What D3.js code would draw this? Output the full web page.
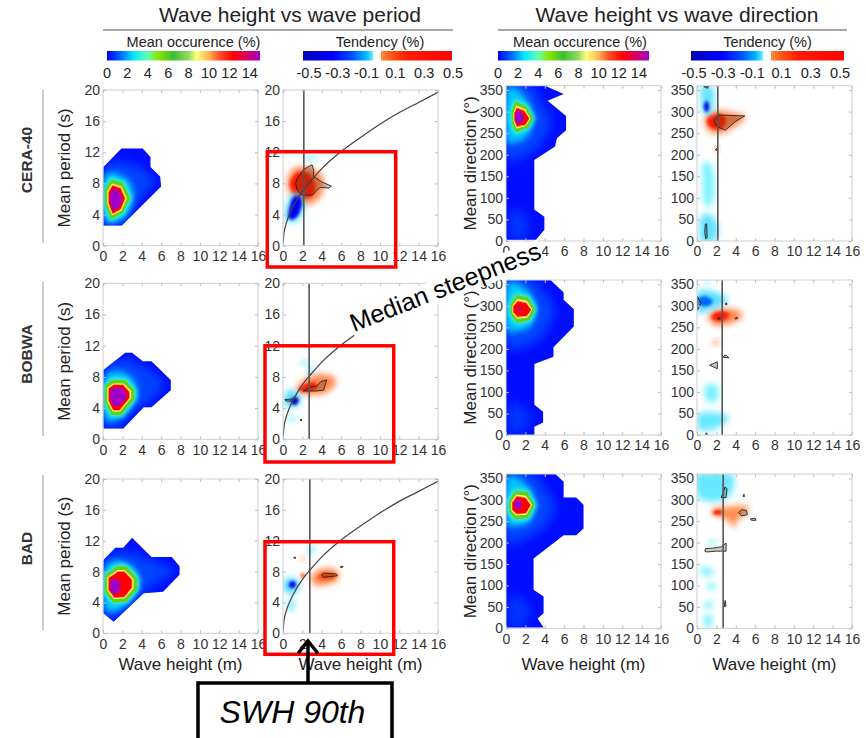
<!DOCTYPE html>
<html><head><meta charset="utf-8">
<script src="https://cdn.jsdelivr.net/npm/d3@7"></script>
<style>body{margin:0;background:#fff}svg{display:block;font-family:Arial,"Liberation Sans",sans-serif}</style>
</head><body><svg id="c" width="866" height="738"></svg>
<script>
// ---------------- DATA ----------------
const rowNames = ["CERA-40","BOBWA","BAD"];
const heightTicks = [0,2,4,6,8,10,12,14,16];
const periodTicks = [0,4,8,12,16,20];
const directionTicks = [0,50,100,150,200,250,300,350];
const occurrenceTicks = [0,2,4,6,8,10,12,14];
const tendencyTicks = ["-0.5","-0.3","-0.1","0.1","0.3","0.5"];
const swh90Period = [2.15,2.7,2.77];
const swh90Direction = [2.15,2.6,2.7];
const steepnessHeight = [0,0.1,0.25,0.5,1,2,3,4,6,8,10,12,14,16];
const steepnessPeriod = [0,1.6,2.5,3.5,4.9,7.0,8.5,9.9,12.1,13.9,15.6,17.1,18.4,19.7];

// Mean occurrence, wave height vs period: envelope (lowest level), glow, cyan, rings
const occPeriodEnvelope = [
 [[0.05,10.1],[1.9,12.5],[4.1,12.5],[4.9,11.4],[4.9,10.1],[5.9,8.9],[6.0,7.6],[1.95,2.6],[0.05,2.6]],
 [[0.05,8.9],[2.3,11.1],[3.0,11.1],[4.1,10],[5.0,10],[7.0,7.6],[7.0,6.3],[5.0,4.1],[4.2,4.1],[2.1,1.4],[0.05,1.4]],
 [[0.05,9.5],[1.27,11.1],[2.1,11.1],[3.0,12.4],[5.0,9.9],[7.1,9.9],[7.9,8.7],[7.9,7.6],[6.2,5.4],[4.2,5.2],[1.1,1.5],[0.05,2.6]]
];
const occPeriodGlow = [
 [[0.05,9.6],[1.6,10.8],[3.6,10.2],[5.3,8.4],[4.6,7.0],[2.6,4.2],[1.5,2.9],[0.05,3.0]],
 [[0.05,8.5],[2.0,10.3],[4.0,9.5],[6.2,7.4],[5.0,5.0],[3.0,3.5],[1.8,1.7],[0.05,1.8]],
 [[0.05,9.2],[2.0,10.6],[4.0,10.0],[6.5,8.8],[7.3,8.0],[5.0,6.0],[3.5,4.6],[1.5,2.2],[0.05,2.9]]
];
const occPeriodCyan = [
 [[0.1,8.7],[1.3,9.3],[2.8,8.1],[3.1,6.0],[2.3,3.6],[1.0,3.0],[0.1,3.6]],
 [[0.1,7.7],[1.4,8.8],[3.0,7.9],[3.5,6.0],[2.7,3.8],[1.2,2.4],[0.1,3.0]],
 [[0.1,8.2],[1.4,9.4],[3.3,8.4],[3.7,6.1],[2.6,4.0],[1.2,2.8],[0.1,3.4]]
];
const ringLevels = [5.8,8.8,10.3,12.4,15];
const occPeriodRings = [
 [
  [[0.22,7.25],[0.85,8.5],[2.05,8.1],[2.8,6.1],[2.05,4.2],[0.85,3.4],[0.22,5.2]],
  [[0.45,7.0],[0.95,8.0],[1.9,7.6],[2.45,6.1],[1.9,4.5],[0.95,3.9],[0.45,5.4]],
  [[0.52,6.95],[0.97,7.85],[1.85,7.5],[2.35,6.1],[1.85,4.6],[0.97,4.0],[0.52,5.45]],
  [[0.6,6.85],[1.0,7.7],[1.8,7.35],[2.25,6.05],[1.8,4.7],[1.0,4.15],[0.6,5.5]],
  [[0.75,6.65],[1.05,7.3],[1.65,7.0],[2.0,6.0],[1.65,4.9],[1.05,4.5],[0.75,5.6]]
 ],
 [
  [[0.2,6.85],[0.95,7.6],[2.3,7.6],[3.25,6.3],[3.25,5.2],[1.9,3.1],[0.9,3.1],[0.2,4.7]],
  [[0.45,6.6],[1.05,7.15],[2.15,7.15],[2.9,6.15],[2.9,5.3],[1.75,3.55],[1.0,3.55],[0.45,4.85]],
  [[0.52,6.55],[1.08,7.05],[2.1,7.05],[2.8,6.1],[2.8,5.3],[1.72,3.65],[1.03,3.65],[0.52,4.9]],
  [[0.6,6.5],[1.1,6.95],[2.05,6.95],[2.7,6.05],[2.7,5.3],[1.7,3.75],[1.05,3.75],[0.6,4.95]],
  [[0.75,6.3],[1.2,6.6],[1.95,6.6],[2.4,5.9],[2.4,5.3],[1.65,4.3],[1.1,4.3],[0.75,5.0]]
 ],
 [
  [[0.2,7.45],[1.4,8.7],[2.4,8.7],[3.5,7.2],[3.5,5.7],[2.4,4.1],[1.05,4.0],[0.2,5.3]],
  [[0.45,7.25],[1.5,8.2],[2.25,8.2],[3.15,7.05],[3.15,5.85],[2.25,4.55],[1.15,4.45],[0.45,5.5]],
  [[0.52,7.2],[1.52,8.1],[2.22,8.1],[3.05,7.0],[3.05,5.9],[2.22,4.65],[1.18,4.55],[0.52,5.55]],
  [[0.6,7.15],[1.55,7.95],[2.2,7.95],[2.95,6.95],[2.95,5.95],[2.2,4.75],[1.2,4.65],[0.6,5.6]],
  [[0.75,6.75],[1.2,7.1],[1.65,6.8],[1.85,5.9],[1.55,5.2],[1.0,5.1],[0.75,5.7]]
 ]
];

// Mean occurrence, wave height vs direction
const occDirEnvelope = [
 [[0,360],[4.03,360],[5.95,341],[4.3,325],[6.2,290],[6.2,257],[5.26,238],[5.06,219],[2.92,188],[2.92,73],[3.96,56],[3.96,26],[3.1,3],[0,3]],
 [[0,360],[4.6,360],[5.95,331],[5.95,314],[7.0,292],[7.0,252],[4.9,204],[4.9,182],[2.93,165],[2.93,70],[3.83,54],[3.83,29],[2.93,19],[2.93,0],[0,0]],
 [[0,360],[5.1,360],[5.95,342],[5.95,305],[7.25,305],[8.0,288],[8.0,233],[7.25,217],[5.95,217],[2.85,163],[2.85,90],[3.88,74],[3.88,35],[3.26,23],[3.88,2],[0,2]]
];
const occDirGlow = [
 [[0,360],[2.6,360],[3.6,320],[4.6,280],[4.0,240],[2.6,205],[0,195]],
 [[0,360],[2.6,360],[4.0,330],[5.0,290],[4.2,245],[3.0,215],[0,210]],
 [[0,360],[2.8,360],[4.2,322],[5.0,282],[4.2,242],[2.5,215],[0,205]]
];
const occDirGlowLow = [
 [[0.3,65],[1.5,70],[2.4,40],[1.8,5],[0.4,5]],
 [[0.3,70],[1.5,72],[2.5,38],[1.6,5],[0.3,5]],
 [[0.3,70],[1.5,72],[2.5,38],[1.8,5],[0.3,5]]
];
const occDirCyan = [
 [[0,348],[1.2,352],[2.3,322],[2.8,282],[2.2,242],[1.0,228],[0,238]],
 [[0,345],[1.3,352],[2.6,325],[3.1,290],[2.5,252],[1.1,240],[0,250]],
 [[0,345],[1.2,352],[2.6,322],[3.0,285],[2.4,248],[1.1,238],[0,248]]
];
const occDirRings = [
 [
  [[0.58,301],[1.0,324],[2.12,312],[2.8,284],[2.25,262],[1.0,252],[0.58,276]],
  [[0.78,299],[1.07,314],[2.0,305],[2.52,284],[2.1,267],[1.07,261],[0.78,278]],
  [[0.83,298],[1.1,311],[1.95,303],[2.45,284],[2.05,268],[1.1,263],[0.83,279]],
  [[0.88,297],[1.12,308],[1.9,301],[2.38,284],[2.0,270],[1.12,266],[0.88,280]],
  [[0.95,294],[1.2,303],[1.65,298],[1.85,285],[1.65,274],[1.2,271],[0.95,281]]
 ],
 [
  [[0.48,303],[1.05,325],[2.28,320],[3.0,292],[2.4,266],[1.05,261],[0.48,281]],
  [[0.68,301],[1.15,316],[2.15,312],[2.72,292],[2.22,273],[1.15,270],[0.68,283]],
  [[0.73,300],[1.17,313],[2.1,309],[2.65,291],[2.18,275],[1.17,272],[0.73,284]],
  [[0.78,299],[1.2,310],[2.05,306],[2.58,291],[2.14,277],[1.2,275],[0.78,285]],
  [[1.15,293],[1.35,298],[1.6,292],[1.4,286]]
 ],
 [
  [[0.33,297],[0.95,321],[2.18,318],[2.95,288],[2.3,258],[0.95,254],[0.33,272]],
  [[0.55,295],[1.05,312],[2.05,309],[2.68,288],[2.12,265],[1.05,263],[0.55,275]],
  [[0.6,294],[1.08,310],[2.02,306],[2.6,288],[2.08,267],[1.08,265],[0.6,276]],
  [[0.66,293],[1.1,307],[2.0,304],[2.52,287],[2.04,269],[1.1,267],[0.66,277]],
  [[0.85,291],[1.1,301],[1.5,298],[1.6,287],[1.4,277],[1.0,277],[0.85,283]]
 ]
];

// Tendency blobs (value in %, polygon in data units)
const tendPeriodBlobs = [
 [
  {v:0.06,pts:[[0.5,8.6],[1.1,9.9],[2.5,10.1],[3.9,9.2],[4.2,7.5],[3.6,5.9],[2.3,5.3],[1.2,6.0],[0.5,7.3]]},
  {v:0.2,pts:[[0.8,8.4],[1.5,9.4],[2.6,9.3],[3.3,8.0],[3.1,6.5],[2.2,6.0],[1.2,6.6],[0.8,7.5]]},
  {v:-0.05,pts:[[0.2,4.0],[0.7,6.3],[1.6,6.8],[2.2,6.0],[2.0,4.2],[1.2,3.0],[0.4,3.2]]},
  {v:-0.35,pts:[[0.55,4.1],[0.95,6.0],[1.6,6.4],[1.95,5.6],[1.65,4.1],[1.1,3.4],[0.65,3.5]]},
  {v:-0.04,pts:[[1.8,11.1],[2.8,11.5],[3.8,11.3],[2.8,11.0]]}
 ],
 [
  {v:0.06,pts:[[1.4,6.2],[2.0,7.4],[3.5,8.3],[5.2,8.0],[5.3,6.8],[4.0,5.8],[2.5,5.8]]},
  {v:0.2,pts:[[1.6,6.3],[2.2,7.0],[3.2,7.3],[3.5,6.6],[2.6,6.1]]},
  {v:-0.05,pts:[[0.1,5.0],[0.3,6.1],[1.0,6.3],[1.8,5.6],[1.6,4.4],[0.8,4.1],[0.2,4.3]]},
  {v:-0.4,pts:[[0.8,4.8],[1.1,5.4],[1.6,5.2],[1.5,4.6],[1.1,4.4]]},
  {v:-0.035,pts:[[1.8,9.7],[2.3,10.2],[2.6,9.7],[2.1,9.5]]},
  {v:-0.035,pts:[[2.5,8.4],[2.8,9.4],[3.1,8.9],[2.8,8.2]]},
  {v:-0.035,pts:[[0.3,2.5],[0.9,2.9],[1.5,2.6],[0.9,2.3]]}
 ],
 [
  {v:0.06,pts:[[2.9,6.8],[3.2,7.8],[4.2,8.4],[5.5,8.2],[5.8,7.3],[5.0,6.5],[3.5,6.2]]},
  {v:0.11,pts:[[3.6,7.3],[4.2,7.8],[5.2,7.7],[5.3,7.1],[4.3,6.9]]},
  {v:0.12,pts:[[1.8,7.4],[2.0,7.8],[2.3,7.5],[2.0,7.2]]},
  {v:0.05,pts:[[1.8,9.6],[2.1,10.0],[2.3,9.7],[2.0,9.4]]},
  {v:-0.05,pts:[[0.0,6.6],[0.5,7.2],[1.4,7.0],[1.7,6.2],[1.3,5.2],[0.4,5.2],[0.0,5.8]]},
  {v:-0.35,pts:[[0.6,6.4],[1.0,6.8],[1.35,6.4],[1.1,5.9],[0.75,5.95]]},
  {v:-0.035,pts:[[0.5,3.0],[0.7,4.4],[1.2,4.2],[1.1,3.0]]},
  {v:-0.035,pts:[[2.5,10.5],[2.9,11.5],[3.3,11.0],[2.9,10.4]]}
 ]
];
const tendPeriodSig = [
 [[[1.3,8.0],[1.46,8.65],[2.14,9.8],[3.0,10.4],[3.16,9.7],[3.16,8.9],[4.0,8.2],[5.0,7.65],[4.7,7.4],[3.84,7.5],[3.0,6.5],[1.97,6.5],[1.46,7.15]]],
 [[[2.1,6.2],[2.8,6.7],[3.5,6.85],[3.9,7.4],[4.5,7.6],[4.2,6.3],[3.5,6.2]],[[0.2,5.1],[1.2,5.2],[1.2,4.9],[0.3,4.9]],[[1.75,2.45],[1.9,2.6],[1.95,2.4]]],
 [[[3.95,7.55],[4.2,7.8],[5.5,7.7],[5.6,7.45],[4.2,7.25]],[[5.9,8.6],[6.2,8.7],[6.1,8.5]],[[1.1,9.8],[1.25,9.9],[1.3,9.7]]]
];
const tendDirBlobs = [
 [
  {v:0.06,pts:[[0.8,275],[1.2,296],[2.5,302],[4.0,296],[5.0,287],[3.8,264],[2.5,250],[1.3,254]]},
  {v:0.2,pts:[[1.0,275],[1.4,291],[2.4,294],[3.0,282],[2.6,261],[1.6,261]]},
  {v:0.06,pts:[[1.8,210],[2.0,218],[2.3,212],[2.0,207]]},
  {v:-0.045,pts:[[0.5,360],[1.5,360],[1.8,330],[1.6,300],[1.2,290],[0.6,300],[0.4,330]]},
  {v:-0.4,pts:[[0.7,311],[1.0,325],[1.25,311],[1.0,298]]},
  {v:-0.03,pts:[[0.6,180],[1.5,175],[1.8,120],[1.4,80],[0.7,90],[0.6,140]]},
  {v:-0.045,pts:[[0.4,55],[1.5,60],[2.2,30],[1.8,0],[0.4,0]]}
 ],
 [
  {v:0.06,pts:[[1.2,272],[1.6,288],[3.0,294],[4.3,288],[4.7,275],[3.8,262],[2.4,254],[1.5,260]]},
  {v:0.2,pts:[[1.5,275],[2.0,285],[3.0,286],[3.3,276],[2.6,265],[1.8,267]]},
  {v:-0.05,pts:[[0,330],[1,336],[2.5,326],[3.2,315],[2.5,300],[1.2,290],[0,285]]},
  {v:-0.15,pts:[[0.2,318],[0.9,322],[1.6,312],[1.2,300],[0.3,302]]},
  {v:0.04,pts:[[1.5,213],[1.9,221],[2.3,215],[1.9,209]]},
  {v:-0.035,pts:[[0.9,360],[1.2,360],[1.3,350],[0.9,350]]},
  {v:-0.03,pts:[[0.9,115],[2.1,115],[2.1,81],[0.9,81]]},
  {v:-0.04,pts:[[0.2,50],[2.0,52],[3.3,40],[2.0,15],[0.2,12]]}
 ],
 [
  {v:0.05,pts:[[1.5,270],[2.0,280],[3.5,284],[5.0,285],[5.3,272],[4.4,258],[3.8,236],[3.3,250],[2.2,262]]},
  {v:0.3,pts:[[1.6,270],[2.0,276],[2.6,273],[2.4,266],[1.9,265]]},
  {v:-0.04,pts:[[0,360],[3.5,360],[3.8,330],[3.2,305],[1.8,295],[0.5,300],[0,310]]},
  {v:-0.03,pts:[[0.4,140],[1.5,140],[1.6,125],[0.5,125]]},
  {v:-0.03,pts:[[1.2,105],[1.8,105],[1.8,90],[1.2,90]]},
  {v:-0.03,pts:[[0.8,60],[1.5,62],[1.5,48],[0.8,48]]},
  {v:-0.03,pts:[[0.8,30],[1.5,30],[1.5,5],[0.8,5]]},
  {v:-0.03,pts:[[1.3,205],[1.9,205],[1.9,195],[1.3,195]]}
 ]
];
const tendDirSig = [
 [[[1.72,277],[1.9,284],[2.24,292],[4.92,290],[3.96,277],[2.93,257],[2.07,265]],[[0.85,38],[1.0,40],[1.05,8],[0.9,5],[0.8,20]],[[1.9,211],[2.05,215],[2.1,210]],[[0.7,358],[1.2,360],[1.1,354]]],
 [[[0.05,322],[0.4,306],[0.05,290]],[[1.3,162],[2.1,170],[2.1,154]],[[2.6,181],[3.0,186],[3.3,179]],[[2.1,270],[2.3,273],[2.4,269]],[[3.9,270],[4.1,274],[4.2,270]],[[2.9,304],[3.05,307],[3.1,303]],[[0.85,2],[1.0,5],[1.05,1]]],
 [[[4.3,270],[4.6,277],[5.1,275],[5.2,265],[4.6,262]],[[5.5,255],[6.0,257],[6.1,252],[5.6,252]],[[2.5,305],[2.9,330],[3.1,325],[3.0,305]],[[0.8,180],[0.9,186],[1.6,187],[2.5,190],[3.0,199],[3.0,180],[2.0,180],[1.0,178]],[[2.8,50],[2.9,65],[3.0,52]],[[4.75,308],[4.85,313],[4.9,307]]]
];

// ---------------- RENDER ----------------
const svg = d3.select("#c");
svg.append("rect").attr("width",866).attr("height",738).attr("fill","#fff");
const defs = svg.append("defs");
function blurFilter(id, sd){
  defs.append("filter").attr("id",id).attr("x","-50%").attr("y","-50%").attr("width","200%").attr("height","200%")
    .append("feGaussianBlur").attr("stdDeviation",sd);
}
blurFilter("b06",0.6); blurFilter("b15",1.5); blurFilter("b2",2.2); blurFilter("b3",3); blurFilter("b5",5);

const occDomain = [0,1.3,2.6,4,5,6.5,8,8.8,10,11,12.4,13.7,15];
const occRange = ["#0000ff","#0064ff","#00e6ff","#64ffb4","#8ce600","#3cbe32","#96dc64","#ffff78","#ffb450","#ff5028","#ff0000","#d20064","#a000c8"];
const occColor = d3.scaleLinear().domain(occDomain).range(occRange).clamp(true);
const tendDomain = [-0.5,-0.3,-0.17,-0.08,-0.03,0.025,0.1,0.2,0.5];
const tendRange = ["#0000b4","#0000ff","#0050ff","#00b4ff","#64f0ff","#ff8c3c","#ff5014","#ff1e00","#ff0000"];
const tendColor = d3.scaleLinear().domain(tendDomain).range(tendRange).clamp(true);

const colX = [103,283,506,697];
const plotW = 155;
const periodRowsY = [[90,245.7],[283.3,439.3],[479,633.3]];
const dirRowsY = [[85.7,241],[280,435],[474,628.3]];
const tickColor = "#bdbdbd", labelColor = "#333";

function makePanel(col,row,kind){
  const x0 = colX[col];
  const [yt,yb] = kind==="period" ? periodRowsY[row] : dirRowsY[row];
  const x = d3.scaleLinear().domain([0,16]).range([x0,x0+plotW]);
  const y = d3.scaleLinear().domain(kind==="period"?[0,20]:[0,360]).range([yb,yt]);
  const id = `clip${col}${row}`;
  defs.append("clipPath").attr("id",id).append("rect").attr("x",x0).attr("y",yt).attr("width",plotW).attr("height",yb-yt);
  const g = svg.append("g");
  const plot = g.append("g").attr("clip-path",`url(#${id})`);
  return {x,y,g,plot,x0,yt,yb,kind,col,row};
}
function pathOf(p, pts, curve){
  return d3.line().x(d=>p.x(d[0])).y(d=>p.y(d[1])).curve(curve||d3.curveLinearClosed)(pts);
}
function drawAxes(p){
  const yt = p.kind==="period"?periodTicks:directionTicks;
  p.g.append("rect").attr("x",p.x0).attr("y",p.yt).attr("width",plotW).attr("height",p.yb-p.yt)
    .attr("fill","none").attr("stroke","#cdcdcd").attr("stroke-width",1);
  const style = a => { a.select(".domain").remove(); a.selectAll(".tick line").attr("stroke",tickColor);
    a.selectAll("text").attr("fill",labelColor).attr("font-size",14).attr("font-family","Arial, 'Liberation Sans', sans-serif"); };
  p.g.append("g").attr("transform",`translate(0,${p.yb})`).call(d3.axisBottom(p.x).tickValues(heightTicks).tickSize(-3).tickPadding(5.5)).call(style);
  p.g.append("g").attr("transform",`translate(0,${p.yt})`).call(d3.axisTop(p.x).tickValues(heightTicks).tickSize(-3).tickFormat("")).call(style);
  p.g.append("g").attr("transform",`translate(${p.x0},0)`).call(d3.axisLeft(p.y).tickValues(yt).tickSize(-3).tickPadding(3)).call(style);
  p.g.append("g").attr("transform",`translate(${p.x0+plotW},0)`).call(d3.axisRight(p.y).tickValues(yt).tickSize(-3).tickFormat("")).call(style);
}
function drawOccurrence(p, env, glow, glowLow, cyan, rings){
  const envId = `env${p.col}${p.row}`;
  defs.append("clipPath").attr("id",envId).append("path").attr("d",pathOf(p,env));
  p.plot.append("path").attr("d",pathOf(p,env)).attr("fill",occColor(0.15)).attr("filter","url(#b06)");
  const inner = p.plot.append("g").attr("clip-path",`url(#${envId})`);
  const g1 = inner.append("g").attr("filter","url(#b5)");
  g1.append("path").attr("d",pathOf(p,glow,d3.curveCardinalClosed)).attr("fill",occColor(1.0)).attr("opacity",0.85);
  if(glowLow) g1.append("path").attr("d",pathOf(p,glowLow,d3.curveCardinalClosed)).attr("fill",occColor(0.7)).attr("opacity",0.9);
  const g2 = inner.append("g").attr("filter","url(#b3)");
  g2.append("path").attr("d",pathOf(p,cyan,d3.curveCardinalClosed)).attr("fill",occColor(2.4)).attr("opacity",0.9);
  const g3 = inner.append("g").attr("filter","url(#b2)");
  g3.append("path").attr("d",pathOf(p,rings[0])).attr("fill",occColor(3.6)).attr("stroke",occColor(3.4)).attr("stroke-width",4);
  rings.forEach((r,i)=>{
    p.plot.append("path").attr("d",pathOf(p,r)).attr("fill",occColor(ringLevels[i])).attr("filter","url(#b06)");
  });
}
function drawTendency(p, blobs, sigs){
  blobs.forEach(b=>{
    const strong = Math.abs(b.v) > 0.1;
    p.plot.append("path").attr("d",pathOf(p,b.pts,d3.curveCardinalClosed))
      .attr("fill",tendColor(b.v)).attr("opacity",strong?1:0.85)
      .attr("filter",strong?"url(#b15)":"url(#b3)");
  });
  sigs.forEach(s=>{
    p.plot.append("path").attr("d",pathOf(p,s)).attr("fill","rgba(90,50,30,0.28)")
      .attr("stroke","#222").attr("stroke-width",0.9).attr("stroke-linejoin","round");
  });
}

rowNames.forEach((name,r)=>{
  let p = makePanel(0,r,"period");
  drawOccurrence(p, occPeriodEnvelope[r], occPeriodGlow[r], null, occPeriodCyan[r], occPeriodRings[r]);
  drawAxes(p);
  p = makePanel(1,r,"period");
  drawTendency(p, tendPeriodBlobs[r], tendPeriodSig[r]);
  const pts = steepnessHeight.map((h,i)=>[h,steepnessPeriod[i]]);
  p.plot.append("path").attr("d",d3.line().x(d=>p.x(d[0])).y(d=>p.y(d[1])).curve(d3.curveMonotoneX)(pts))
    .attr("fill","none").attr("stroke","#444").attr("stroke-width",1.2);
  p.plot.append("line").attr("x1",p.x(swh90Period[r])).attr("x2",p.x(swh90Period[r])).attr("y1",p.yt).attr("y2",p.yb)
    .attr("stroke","#555").attr("stroke-width",1.6);
  drawAxes(p);
  p = makePanel(2,r,"dir");
  drawOccurrence(p, occDirEnvelope[r], occDirGlow[r], occDirGlowLow[r], occDirCyan[r], occDirRings[r]);
  drawAxes(p);
  p = makePanel(3,r,"dir");
  drawTendency(p, tendDirBlobs[r], tendDirSig[r]);
  p.plot.append("line").attr("x1",p.x(swh90Direction[r])).attr("x2",p.x(swh90Direction[r])).attr("y1",p.yt).attr("y2",p.yb)
    .attr("stroke","#555").attr("stroke-width",1.6);
  drawAxes(p);

  const [pt,pb] = periodRowsY[r], [dt,db] = dirRowsY[r];
  svg.append("text").attr("transform",`translate(66,${(pt+pb)/2}) rotate(-90)`).attr("text-anchor","middle")
    .attr("dominant-baseline","middle").attr("font-size",17).attr("fill","#222").text("Mean period (s)");
  svg.append("text").attr("transform",`translate(472,${(dt+db)/2}) rotate(-90)`).attr("text-anchor","middle")
    .attr("dominant-baseline","middle").attr("font-size",17).attr("fill","#222").text("Mean direction (°)");
  svg.append("text").attr("transform",`translate(28,${[160,354,548.5][r]}) rotate(-90)`).attr("text-anchor","middle")
    .attr("dominant-baseline","middle").attr("font-size",15.5).attr("font-weight","bold").attr("fill","#333").text(name);
  const lineY = [[90,243],[282,436],[475,630]][r];
  svg.append("line").attr("x1",43).attr("x2",43).attr("y1",lineY[0]).attr("y2",lineY[1]).attr("stroke","#999").attr("stroke-width",1);
});

colX.forEach(x0=>{
  svg.append("text").attr("x",x0+plotW/2).attr("y",666).attr("text-anchor","middle").attr("dominant-baseline","middle")
    .attr("font-size",17).attr("fill","#222").text("Wave height (m)");
});

[["Wave height vs wave period",290,103,453],["Wave height vs wave direction",677,498,847]].forEach(t=>{
  svg.append("text").attr("x",t[1]).attr("y",22).attr("text-anchor","middle").attr("font-size",21).attr("fill","#222").text(t[0]);
  svg.append("line").attr("x1",t[2]).attr("x2",t[3]).attr("y1",30).attr("y2",30).attr("stroke","#8a8a8a").attr("stroke-width",1.3);
});

const occGrad = defs.append("linearGradient").attr("id","occGrad");
occDomain.forEach(d=>occGrad.append("stop").attr("offset",d/15).attr("stop-color",occColor(d)));
const tendGrad = defs.append("linearGradient").attr("id","tendGrad");
const tScale = d3.scaleLinear().domain([-0.5,0.5]).range([0,1]);
tendDomain.forEach(d=>{
  if(d===0.025) { tendGrad.append("stop").attr("offset",tScale(-0.03)).attr("stop-color","#fff");
                  tendGrad.append("stop").attr("offset",tScale(0.025)).attr("stop-color","#fff"); }
  tendGrad.append("stop").attr("offset",tScale(d)).attr("stop-color",tendColor(d));
});
function occBar(x0,x1,cx){
  svg.append("text").attr("x",cx).attr("y",47).attr("text-anchor","middle").attr("font-size",14.5).attr("fill","#222").text("Mean occurence (%)");
  svg.append("rect").attr("x",x0).attr("y",51).attr("width",x1-x0).attr("height",9.5).attr("fill","url(#occGrad)");
  const s = d3.scaleLinear().domain([0,15]).range([x0,x1]);
  svg.append("g").selectAll("text").data(occurrenceTicks).join("text").attr("x",d=>s(d)).attr("y",78)
    .attr("text-anchor","middle").attr("font-size",14.5).attr("fill","#222").text(d=>d);
}
function tendBar(x0,x1,l0,l1,cx){
  svg.append("text").attr("x",cx).attr("y",47).attr("text-anchor","middle").attr("font-size",14.5).attr("fill","#222").text("Tendency (%)");
  svg.append("rect").attr("x",x0).attr("y",51).attr("width",x1-x0).attr("height",9.5).attr("fill","url(#tendGrad)");
  const s = d3.scalePoint().domain(tendencyTicks).range([l0,l1]);
  svg.append("g").selectAll("text").data(tendencyTicks).join("text").attr("x",d=>s(d)).attr("y",78)
    .attr("text-anchor","middle").attr("font-size",14.5).attr("fill","#222").text(d=>d);
}
occBar(107,260,193.5);
tendBar(303,452,309,453,380);
occBar(498,649,580);
tendBar(691,844,694,840,767.5);

// annotations
[[267.3,151.7,395.7,267],[265,345.8,393.7,462],[265,541.7,393.7,654.3]].forEach(b=>{
  svg.append("rect").attr("x",b[0]).attr("y",b[1]).attr("width",b[2]-b[0]).attr("height",b[3]-b[1])
    .attr("fill","none").attr("stroke","#f00").attr("stroke-width",3.5);
});
const ms = svg.append("g").attr("transform","translate(354,332) rotate(-21.5)");
const msText = ms.append("text").attr("font-size",25).attr("fill","#000").text("Median steepness");
const msLen = msText.node().getComputedTextLength();
ms.insert("rect","text").attr("x",-1).attr("y",-19).attr("width",msLen+2).attr("height",24).attr("fill","#fff");
svg.append("rect").attr("x",198).attr("y",683).attr("width",194).attr("height",70).attr("fill","#fff").attr("stroke","#000").attr("stroke-width",3.5);
svg.append("text").attr("x",292.5).attr("y",723).attr("text-anchor","middle").attr("font-size",32).attr("font-style","italic").attr("fill","#000").text("SWH 90th");
svg.append("line").attr("x1",308).attr("x2",308).attr("y1",683).attr("y2",641).attr("stroke","#000").attr("stroke-width",3.5);
svg.append("path").attr("d","M298,653.5L308,641L318,653.5").attr("fill","none").attr("stroke","#000").attr("stroke-width",3.5);
</script></body></html>
